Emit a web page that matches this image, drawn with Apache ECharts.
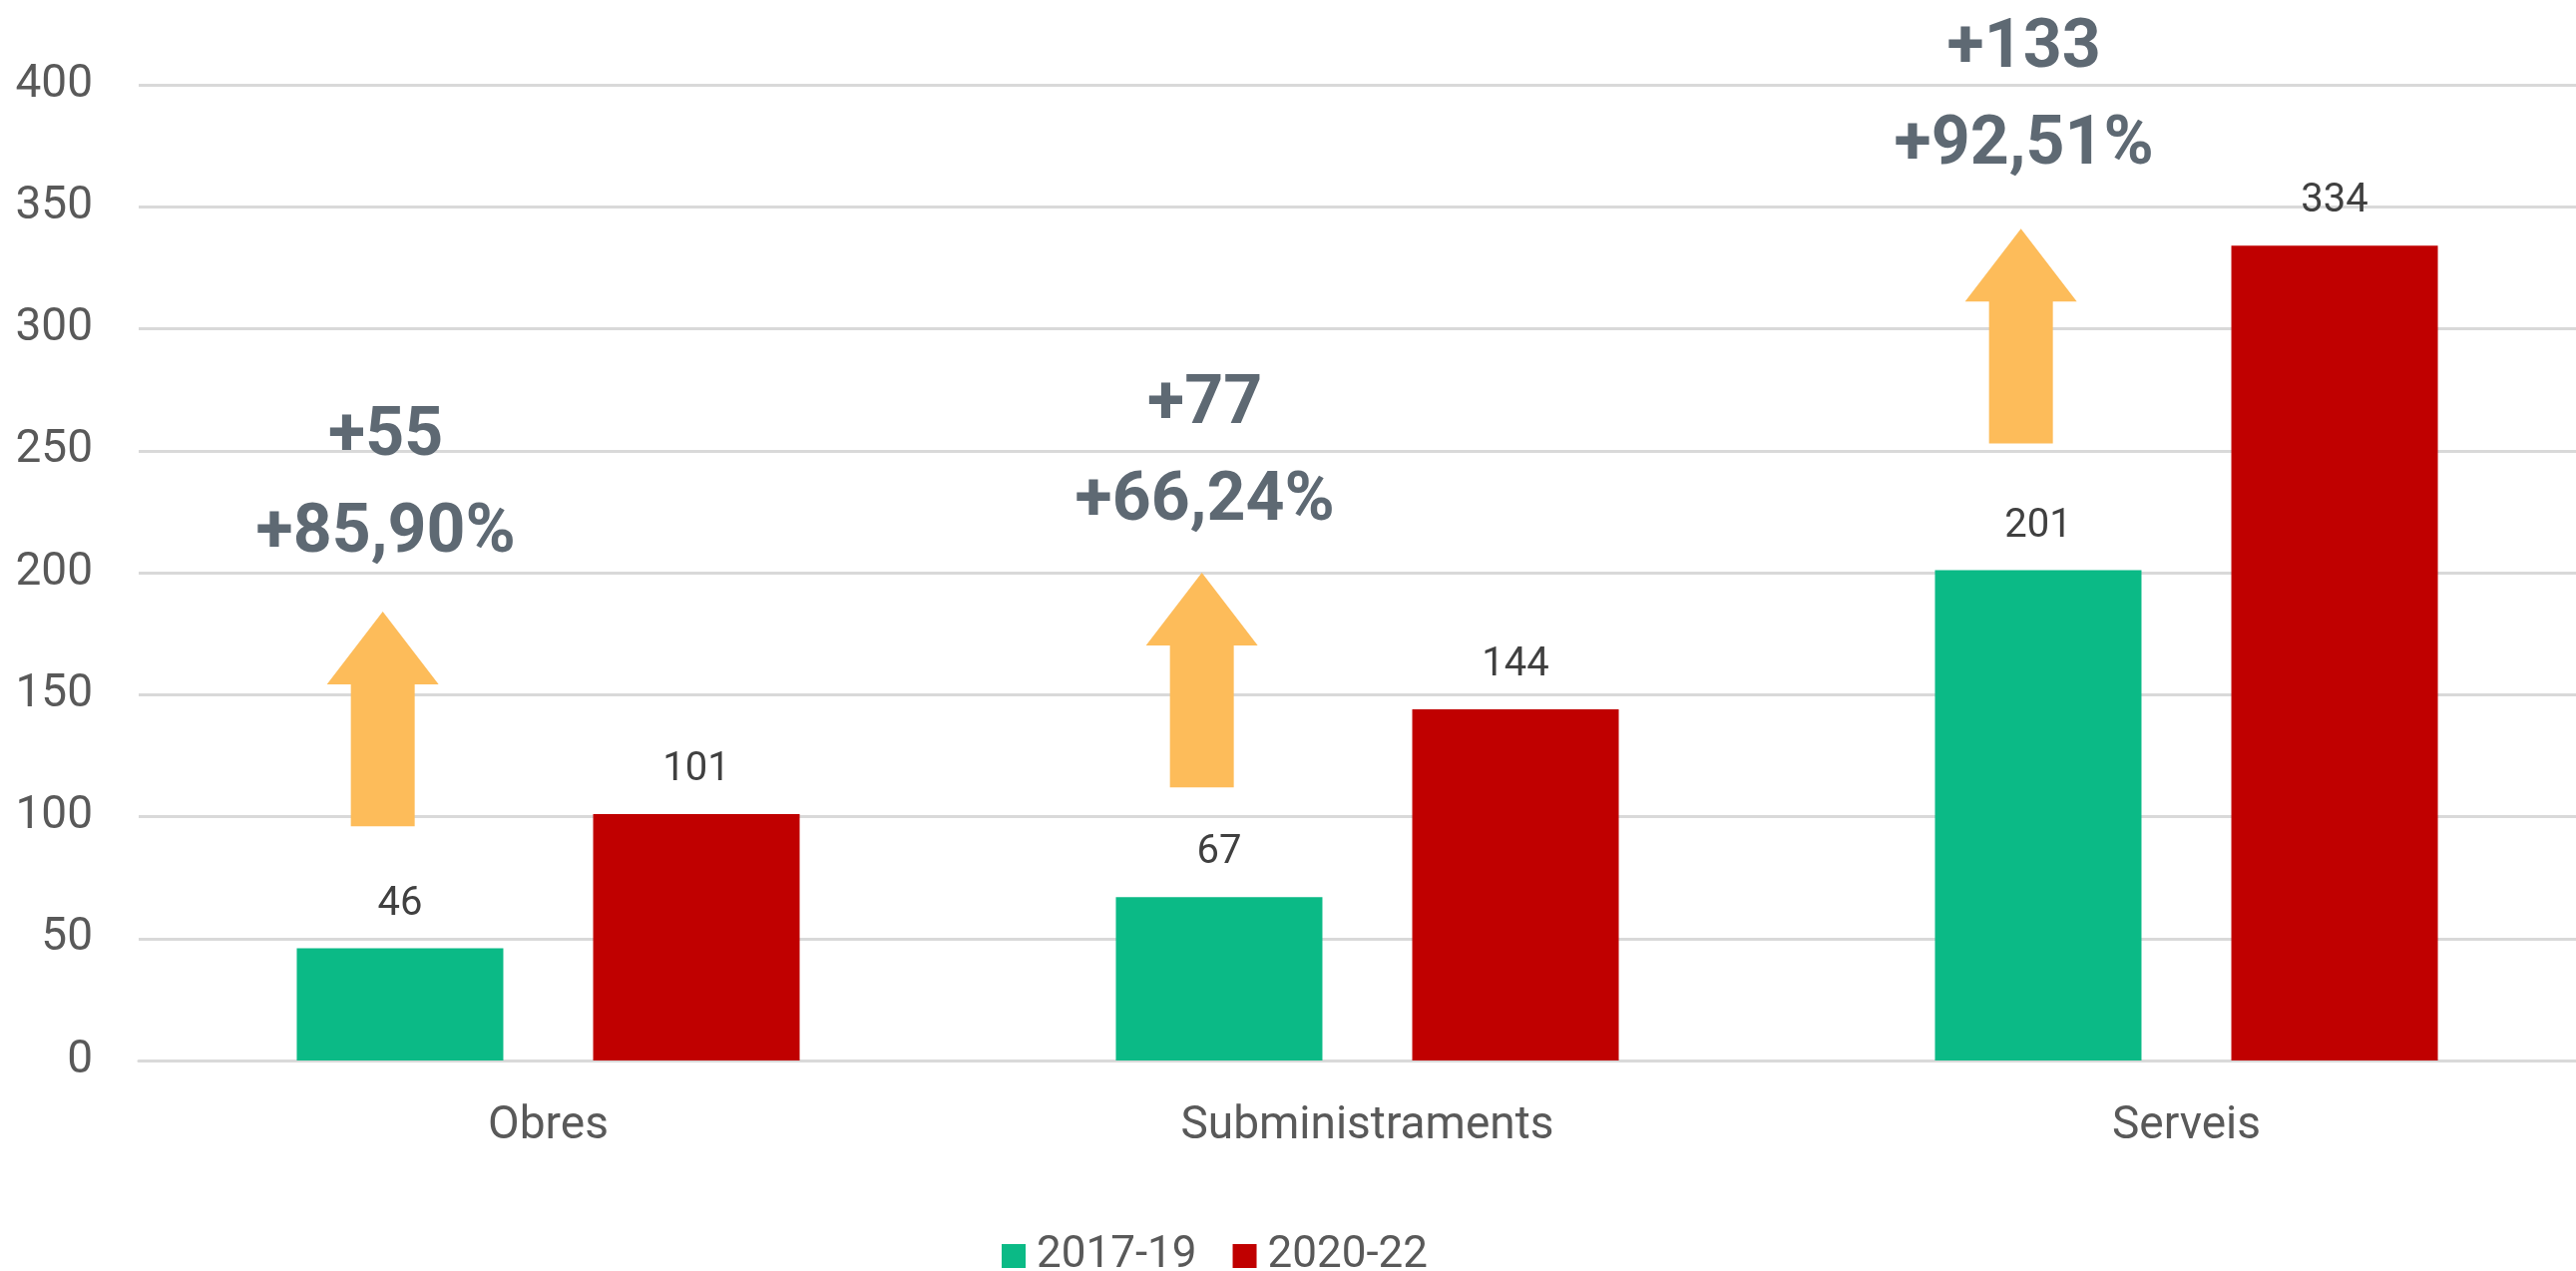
<!DOCTYPE html>
<html>
<head>
<meta charset="utf-8">
<script src="https://cdn.jsdelivr.net/npm/echarts@6/dist/echarts.min.js"></script>
<style>
html,body{margin:0;padding:0;background:#fff;overflow:hidden;}
#chart{width:2602px;height:1274px;}
</style>
</head>
<body>
<div id="chart"></div>
<script>
const categories = ['Obres', 'Subministraments', 'Serveis'];
const seriesNames = ['2017-19', '2020-22'];
const values2017 = [46, 67, 201];
const values2020 = [101, 144, 334];
const yTicks = [0, 50, 100, 150, 200, 250, 300, 350, 400];
// growth annotations (arrow base value, arrow tip value, label anchor value)
const arrowBase = [96, 112, 253];
const arrowTip = [184, 200, 341];
const labelAnchor = [235.5, 248.5, 394.5];
const diffLabels = ['+55', '+77', '+133'];
const pctLabels = ['+85,90%', '+66,24%', '+92,51%'];

const chart = echarts.init(document.getElementById('chart'), null, {renderer: 'canvas'});

const annData = categories.map((c, i) => [i, arrowBase[i], arrowTip[i], labelAnchor[i]]);

const option = {
  animation: false,
  backgroundColor: '#ffffff',
  textStyle: {fontFamily: 'Roboto'},
  grid: {left: 139, top: 85, right: 0, bottom: 211, containLabel: false},
  legend: {
    data: seriesNames,
    left: 999,
    top: 1232,
    itemWidth: 24,
    itemHeight: 24,
    itemGap: 36,
    icon: 'rect',
    textStyle: {fontFamily: 'Roboto', fontSize: 44, color: '#595959', padding: [0, 0, 0, 6]}
  },
  xAxis: {
    type: 'category',
    data: categories,
    axisLine: {show: true, lineStyle: {color: '#d9d9d9', width: 3}},
    axisTick: {show: false},
    axisLabel: {fontFamily: 'Roboto', fontSize: 46, color: '#595959', margin: 43}
  },
  yAxis: {
    type: 'value',
    min: yTicks[0],
    max: yTicks[yTicks.length - 1],
    interval: 50,
    axisLine: {show: false},
    axisTick: {show: false},
    axisLabel: {fontFamily: 'Roboto', fontSize: 46, color: '#595959', margin: 46},
    splitLine: {lineStyle: {color: '#d9d9d9', width: 3}}
  },
  series: [
    {
      name: seriesNames[0],
      type: 'bar',
      data: values2017,
      barWidth: 207,
      barGap: '43.5%',
      itemStyle: {color: '#0BBA86'},
      label: {show: true, position: 'top', distance: 24, fontFamily: 'Roboto', fontSize: 40, color: '#404040'}
    },
    {
      name: seriesNames[1],
      type: 'bar',
      data: values2020,
      barWidth: 207,
      barGap: '43.5%',
      itemStyle: {color: '#C00000'},
      label: {show: true, position: 'top', distance: 24, fontFamily: 'Roboto', fontSize: 40, color: '#404040'}
    },
    {
      name: 'growth',
      type: 'custom',
      data: annData,
      z: 5,
      clip: false,
      renderItem: function (params, api) {
        const i = api.value(0);
        const band = api.size([1, 0])[0];
        const b = api.coord([i, api.value(1)]);
        const t = api.coord([i, api.value(2)]);
        const l = api.coord([i, api.value(3)]);
        const x = b[0] - band * 0.202;
        const headH = 73, headW = 112, shaftW = 64;
        const yb = b[1], yt = t[1], yh = yt + headH;
        const pts = [
          [x - shaftW / 2, yb], [x - shaftW / 2, yh], [x - headW / 2, yh],
          [x, yt], [x + headW / 2, yh], [x + shaftW / 2, yh], [x + shaftW / 2, yb]
        ];
        const idx = params.dataIndex;
        return {
          type: 'group',
          children: [
            {type: 'polygon', shape: {points: pts}, style: {fill: '#FDBC5A'}},
            {
              type: 'text',
              x: x + 3,
              y: l[1],
              style: {
                text: diffLabels[idx] + '\n' + pctLabels[idx],
                fill: '#5E6973',
                font: 'bold 68px Roboto',
                align: 'center',
                verticalAlign: 'middle',
                lineHeight: 97
              }
            }
          ]
        };
      }
    }
  ]
};
chart.setOption(option);
</script>
</body>
</html>
